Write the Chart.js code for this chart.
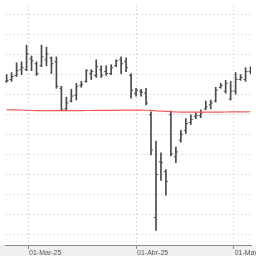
<!DOCTYPE html>
<html>
<head>
<meta charset="utf-8">
<script src="https://cdn.jsdelivr.net/npm/chart.js@4.4.1/dist/chart.umd.min.js"></script>
<style>
  html, body { margin: 0; padding: 0; background: #fff; }
  canvas { display: block; }
</style>
</head>
<body>
<canvas id="ohlcChart" width="256" height="256"></canvas>
<script>
// daily OHLC bars, 24-Feb-25 .. 07-May-25 (trading days only)
const dates = [
    '2025-02-24', '2025-02-25', '2025-02-26', '2025-02-27', '2025-02-28',
    '2025-03-03', '2025-03-04', '2025-03-05', '2025-03-06', '2025-03-07',
    '2025-03-10', '2025-03-11', '2025-03-12', '2025-03-13', '2025-03-14',
    '2025-03-17', '2025-03-18', '2025-03-19', '2025-03-20', '2025-03-21',
    '2025-03-24', '2025-03-25', '2025-03-26', '2025-03-27', '2025-03-28',
    '2025-03-31', '2025-04-01', '2025-04-02', '2025-04-03', '2025-04-04',
    '2025-04-07', '2025-04-08', '2025-04-09', '2025-04-10', '2025-04-11',
    '2025-04-14', '2025-04-15', '2025-04-16', '2025-04-17', '2025-04-22',
    '2025-04-23', '2025-04-24', '2025-04-25', '2025-04-28', '2025-04-29',
    '2025-04-30', '2025-05-02', '2025-05-05', '2025-05-06', '2025-05-07'
];
const highs = [
    11.995, 12.044, 12.289, 12.314, 12.730, 12.461, 12.314, 12.730, 12.681, 12.436,
    12.436, 11.701, 11.431, 11.627, 11.775, 11.824, 12.118, 12.118, 12.363, 12.216,
    12.216, 12.240, 12.363, 12.436, 12.412, 12.020, 11.652, 11.627, 11.652, 11.064,
    10.328, 10.034, 9.618, 11.088, 10.181, 10.598, 10.892, 10.990, 11.039, 11.113,
    11.333, 11.358, 11.676, 11.775, 11.848, 11.824, 12.044, 11.995, 12.167, 12.191
];
const lows = [
    11.799, 11.824, 11.946, 11.995, 12.093, 12.093, 11.971, 12.191, 12.216, 12.020,
    11.652, 11.088, 11.088, 11.309, 11.358, 11.676, 11.799, 11.873, 11.922, 11.922,
    11.971, 11.995, 12.191, 12.020, 12.069, 11.407, 11.456, 11.456, 11.235, 9.985,
    8.098, 9.348, 8.980, 9.961, 9.789, 10.304, 10.525, 10.745, 10.892, 10.917,
    11.113, 11.137, 11.309, 11.652, 11.529, 11.358, 11.505, 11.848, 11.824, 12.020
];
const opens = [
    11.824, 11.873, 11.971, 12.118, 12.118, 12.387, 12.265, 12.216, 12.363, 12.412,
    12.314, 11.652, 11.137, 11.333, 11.480, 11.725, 11.824, 12.020, 11.971, 12.118,
    12.069, 12.020, 12.216, 12.363, 12.314, 11.971, 11.529, 11.578, 11.529, 10.990,
    8.417, 9.814, 9.569, 10.990, 9.936, 10.353, 10.598, 10.794, 10.941, 10.966,
    11.137, 11.235, 11.333, 11.676, 11.578, 11.382, 11.578, 11.873, 11.873, 12.069
];
const closes = [
    11.848, 11.946, 12.093, 12.167, 12.510, 12.338, 12.020, 12.436, 12.510, 12.265,
    11.701, 11.113, 11.284, 11.456, 11.701, 11.750, 12.093, 12.069, 12.191, 11.971,
    12.020, 12.167, 12.338, 12.265, 12.167, 11.603, 11.603, 11.554, 11.284, 10.108,
    9.495, 9.789, 9.324, 10.010, 10.059, 10.500, 10.770, 10.868, 10.966, 11.039,
    11.186, 11.284, 11.603, 11.725, 11.775, 11.578, 11.873, 11.922, 12.069, 12.118
];
// long moving average (red)
const movingAvg = [
    11.113, 11.112, 11.110, 11.108, 11.100, 11.096, 11.094, 11.093, 11.093, 11.093,
    11.093, 11.093, 11.093, 11.093, 11.094, 11.094, 11.095, 11.096, 11.097, 11.098,
    11.099, 11.100, 11.101, 11.103, 11.104, 11.105, 11.105, 11.104, 11.102, 11.098,
    11.085, 11.080, 11.076, 11.066, 11.060, 11.057, 11.056, 11.055, 11.055, 11.055,
    11.055, 11.055, 11.056, 11.057, 11.058, 11.059, 11.061, 11.062, 11.063, 11.064
];
// month gridlines sit between the last and first trading day (in bar index units)
const monthTicks = [4.3, 26, 45.6];
const monthLabels = ['01-Mar-25', '01-Abr-25', '01-May-25'];

const barColor = '#4a4a4a';
const gridColor = '#dedede';

//grey band under the chart area, behind the date labels
const axisBand = {
    id: 'axisBand',
    beforeDraw(chart) {
        const c = chart.ctx;
        c.save();
        c.fillStyle = '#f0f0f0';
        c.fillRect(0, chart.chartArea.bottom, chart.width, chart.height - chart.chartArea.bottom);
        c.restore();
    }
};

const ctx = document.getElementById('ohlcChart').getContext('2d');
const chart = new Chart(ctx, {
    type: 'bar',
    data: {
        datasets: [{
            type: 'line',
            label: 'Media',
            data: movingAvg.map((v, i) => ({x: i, y: v})),
            borderColor: '#f25a5a',
            borderWidth: 1.2,
            pointRadius: 0,
            tension: 0,
            order: 0
        }, {
            type: 'bar',
            label: 'Rango',
            data: dates.map((d, i) => ({x: i, y: [lows[i], highs[i]]})),
            backgroundColor: barColor,
            barThickness: 1,
            order: 1
        }, {
            type: 'scatter',
            label: 'Apertura',
            data: opens.map((v, i) => ({x: i - 0.2, y: v})),
            pointStyle: 'line',
            pointRadius: 1,
            borderColor: barColor,
            borderWidth: 1,
            order: 1
        }, {
            type: 'scatter',
            label: 'Cierre',
            data: closes.map((v, i) => ({x: i + 0.2, y: v})),
            pointStyle: 'line',
            pointRadius: 1,
            borderColor: barColor,
            borderWidth: 1,
            order: 1
        }]
    },
    options: {
        responsive: false,
        animation: false,
        layout: { padding: 0 },
        plugins: {
            legend: { display: false },
            tooltip: { enabled: false }
        },
        scales: {
            x: {
                type: 'linear',
                min: -0.33,
                max: 49.09,
                offset: false,
                afterBuildTicks: scale => {
                    scale.ticks = monthTicks.map(v => ({value: v}));
                },
                afterFit: scale => {
                    scale.height = 11;
                    scale.paddingLeft = 0;
                    scale.paddingRight = 0;
                },
                grid: {
                    color: gridColor,
                    offset: false,
                    drawTicks: true,
                    tickLength: 4,
                    tickColor: '#8a8a8a',
                    tickBorderDash: [],
                    tickBorderDashOffset: 0
                },
                border: { display: true, color: '#8a8a8a', width: 1, dash: [2, 2] },
                ticks: {
                    autoSkip: false,
                    maxRotation: 0,
                    align: 'start',
                    labelOffset: 1,
                    padding: 0,
                    color: '#555',
                    font: { family: 'Liberation Sans', size: 7 },
                    callback: (value, index) => monthLabels[index]
                }
            },
            y: {
                min: 7.7304,
                max: 13.735,
                afterFit: scale => {
                    scale.width = 0;
                },
                grid: { color: gridColor, drawTicks: false },
                border: { display: false, dash: [2, 2] },
                ticks: { display: false, stepSize: 0.5, includeBounds: false }
            }
        }
    },
    plugins: [axisBand]
});
</script>
</body>
</html>
